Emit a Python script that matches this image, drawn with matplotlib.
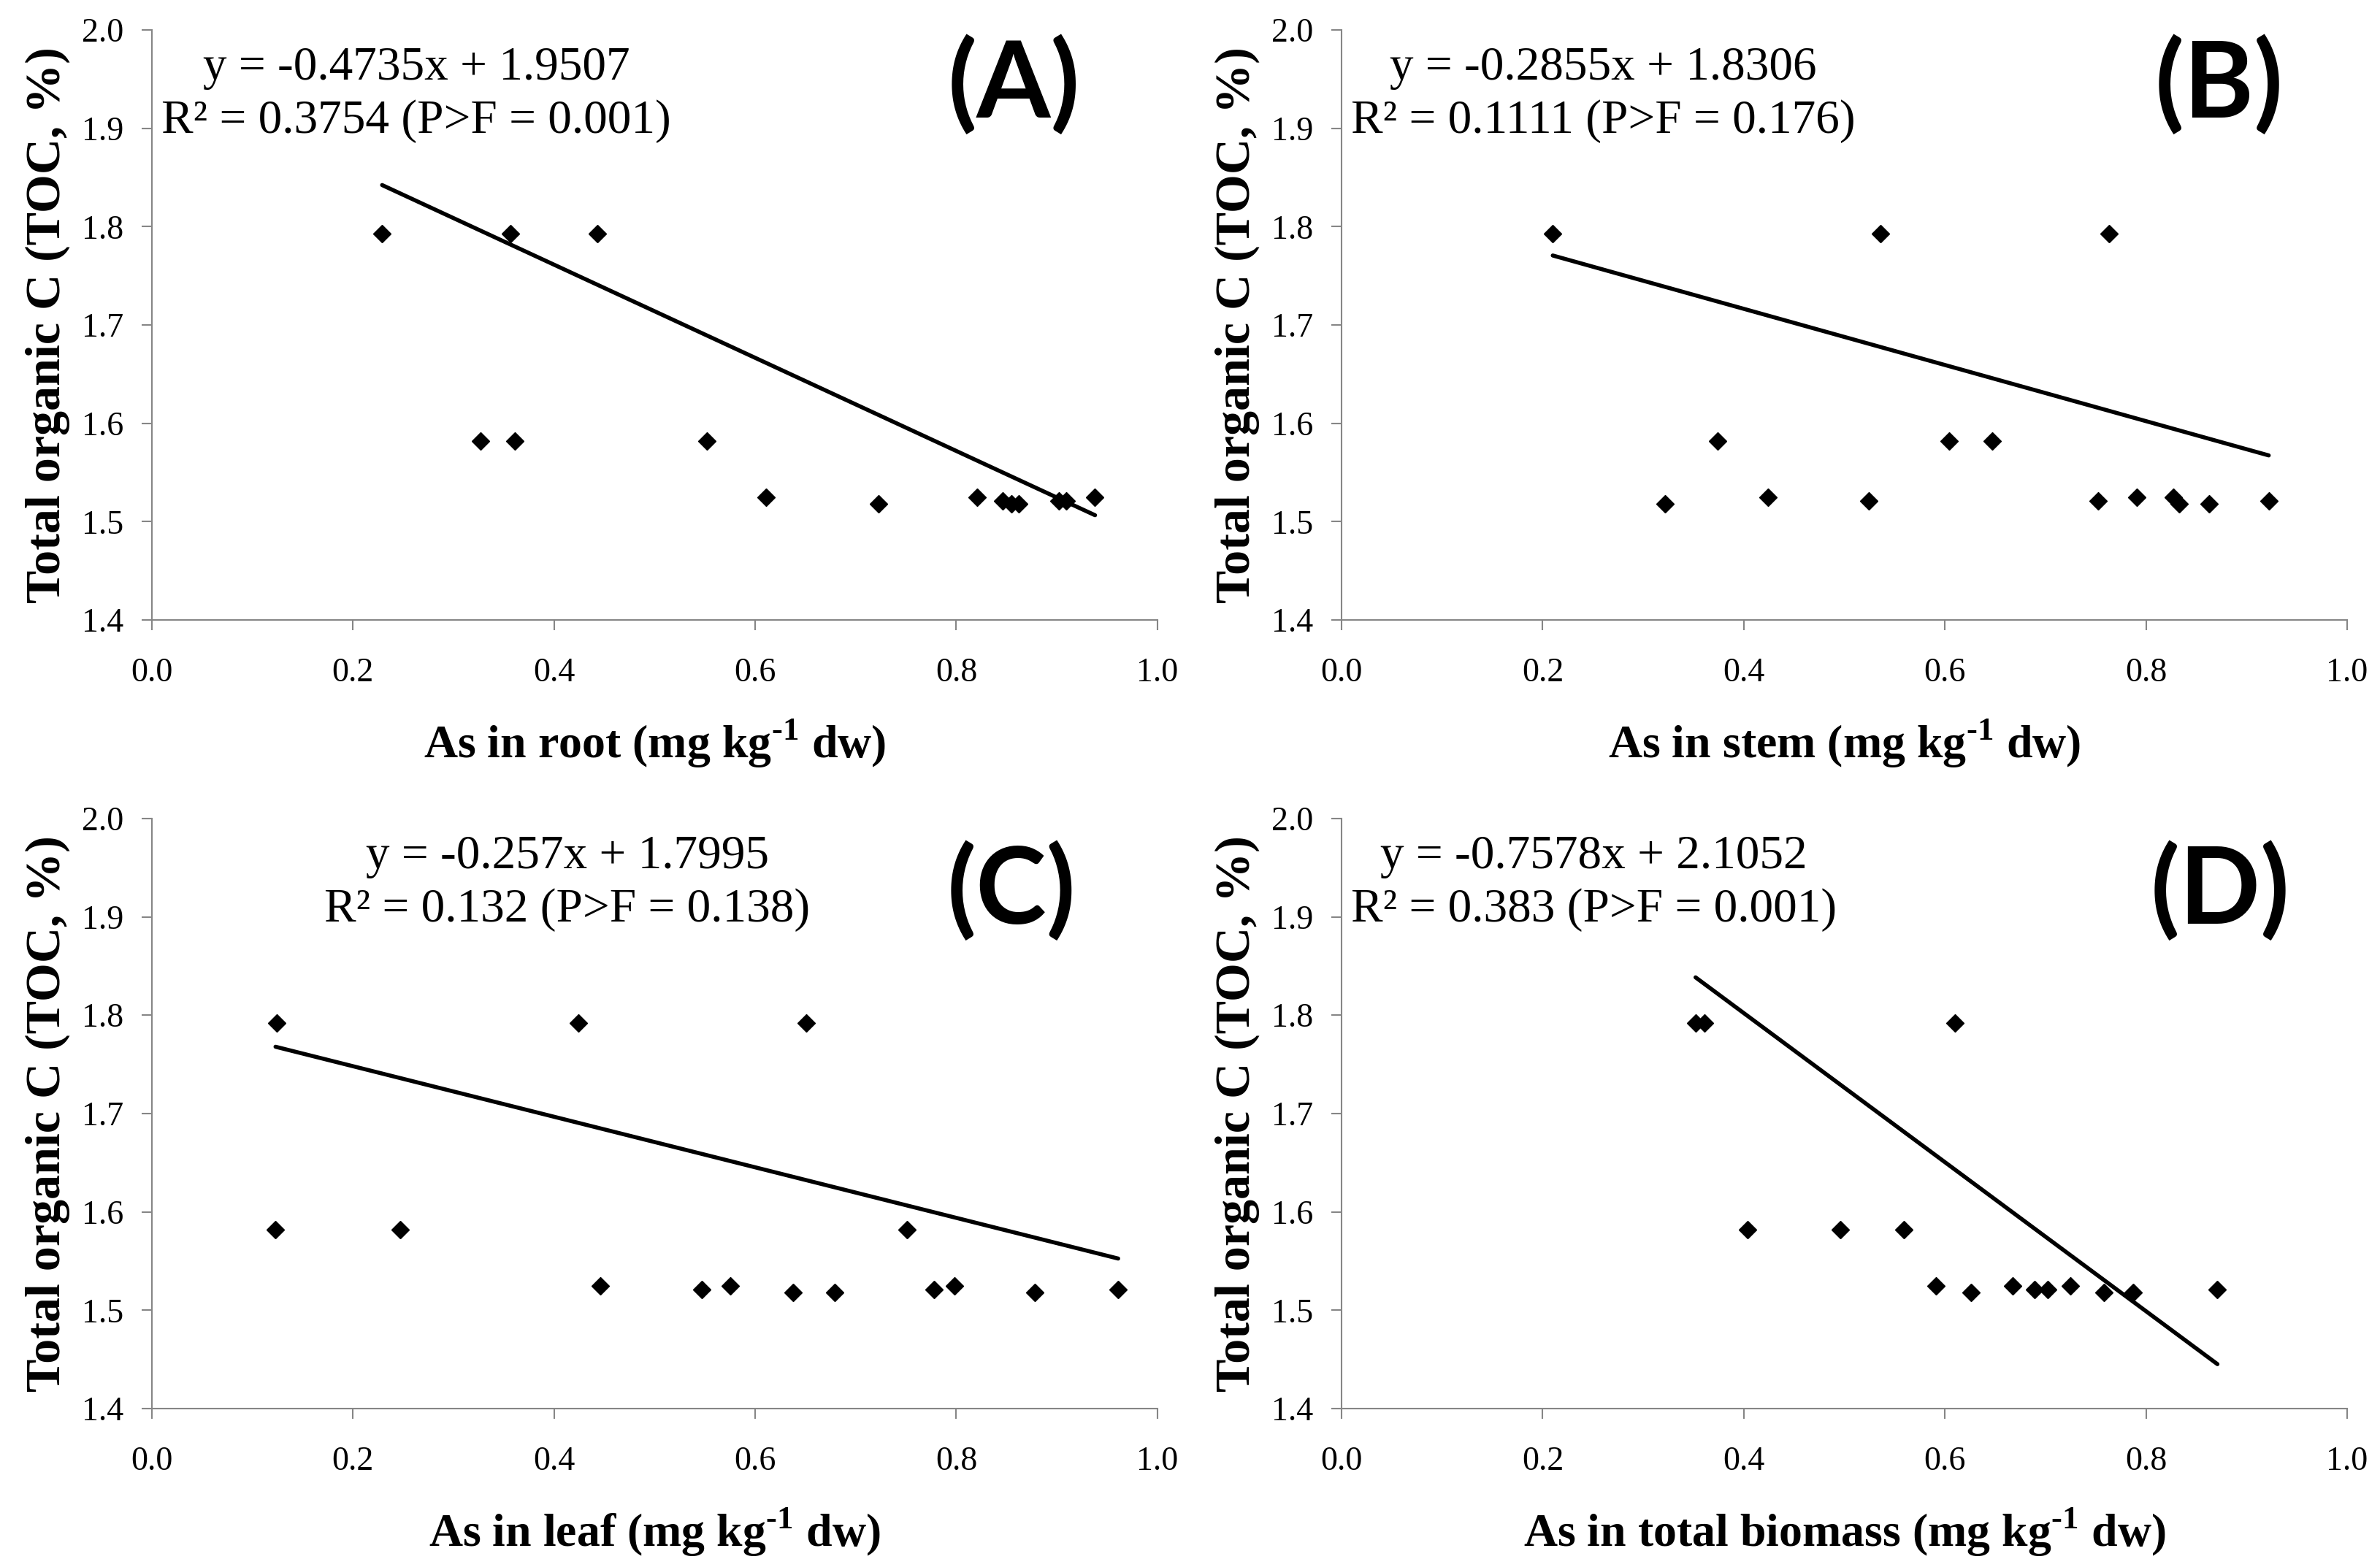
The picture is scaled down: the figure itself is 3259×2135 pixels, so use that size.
import numpy as np
import matplotlib
matplotlib.use("Agg")
import matplotlib.pyplot as plt

plt.rcParams['font.family'] = ['Liberation Serif', 'DejaVu Serif']
plt.rcParams['mathtext.fontset'] = 'custom'
plt.rcParams['mathtext.rm'] = 'Liberation Serif:bold'
plt.rcParams['mathtext.bf'] = 'Liberation Serif:bold'

# panel A - root
root_x = [0.229, 0.357, 0.443, 0.327, 0.361, 0.552, 0.611, 0.723, 0.821,
          0.846, 0.855, 0.862, 0.902, 0.909, 0.938]
root_y = [1.793, 1.793, 1.793, 1.582, 1.582, 1.582, 1.525, 1.518, 1.525,
          1.521, 1.518, 1.518, 1.521, 1.521, 1.525]

# panel B - stem
stem_x = [0.210, 0.536, 0.763, 0.374, 0.604, 0.647, 0.322, 0.424, 0.524,
          0.752, 0.791, 0.827, 0.833, 0.863, 0.922]
stem_y = [1.793, 1.793, 1.793, 1.582, 1.582, 1.582, 1.518, 1.525, 1.521,
          1.521, 1.525, 1.525, 1.518, 1.518, 1.521]

# panel C - leaf
leaf_x = [0.124, 0.424, 0.651, 0.123, 0.247, 0.751, 0.446, 0.547, 0.575,
          0.638, 0.679, 0.778, 0.798, 0.878, 0.961]
leaf_y = [1.792, 1.792, 1.792, 1.582, 1.582, 1.582, 1.525, 1.521, 1.525,
          1.518, 1.518, 1.521, 1.525, 1.518, 1.521]

# panel D - total biomass
total_x = [0.352, 0.361, 0.610, 0.404, 0.496, 0.559, 0.591, 0.626, 0.667,
           0.689, 0.702, 0.725, 0.758, 0.787, 0.871]
total_y = [1.792, 1.792, 1.792, 1.582, 1.582, 1.582, 1.525, 1.518, 1.525,
           1.521, 1.521, 1.525, 1.518, 1.518, 1.521]

slopes = [-0.4735, -0.2855, -0.257, -0.7578]
intercepts = [1.9507, 1.8306, 1.7995, 2.1052]
eq_lines = ["y = -0.4735x + 1.9507", "y = -0.2855x + 1.8306",
            "y = -0.257x + 1.7995", "y = -0.7578x + 2.1052"]
r2_lines = ["R\u00b2 = 0.3754 (P>F = 0.001)", "R\u00b2 = 0.1111 (P>F = 0.176)",
            "R\u00b2 = 0.132 (P>F = 0.138)", "R\u00b2 = 0.383 (P>F = 0.001)"]
panel_tags = ["(A)", "(B)", "(C)", "(D)"]
xlabels = [r"As in root (mg kg$^{\text{-1}}$ dw)", r"As in stem (mg kg$^{\text{-1}}$ dw)",
           r"As in leaf (mg kg$^{\text{-1}}$ dw)",
           r"As in total biomass (mg kg$^{\text{-1}}$ dw)"]
ylabel = "Total organic C (TOC, %)"

xs = [root_x, stem_x, leaf_x, total_x]
ys = [root_y, stem_y, leaf_y, total_y]

# layout (figure fractions)
positions = [[0.0638, 0.6023, 0.4225, 0.3785],
             [0.5637, 0.6023, 0.4225, 0.3785],
             [0.0638, 0.0965, 0.4225, 0.3785],
             [0.5637, 0.0965, 0.4225, 0.3785]]
eq_x = [0.263, 0.260, 0.413, 0.251]
tag_x = [0.857, 0.873, 0.855, 0.874]
tag_y = [0.907, 0.907, 0.877, 0.877]

grey = '#868686'
fig = plt.figure(figsize=(32.59, 21.35), dpi=100)

for i in range(4):
    ax = fig.add_axes(positions[i])
    x = np.array(xs[i])
    y = np.array(ys[i])
    ax.plot(x, y, linestyle='none', marker='D', markersize=12, color='black')
    xl = np.array([x.min(), x.max()])
    ax.plot(xl, slopes[i] * xl + intercepts[i], color='black', lw=4,
            solid_capstyle='round')

    ax.set_xlim(0, 1.0)
    ax.set_ylim(1.4, 2.0)
    ax.set_xticks(np.arange(0, 1.01, 0.2))
    ax.set_yticks(np.arange(1.4, 2.001, 0.1))
    ax.xaxis.set_major_formatter(matplotlib.ticker.FormatStrFormatter('%.1f'))
    ax.yaxis.set_major_formatter(matplotlib.ticker.FormatStrFormatter('%.1f'))
    for s in ['top', 'right']:
        ax.spines[s].set_visible(False)
    for s in ['left', 'bottom']:
        ax.spines[s].set_color(grey)
        ax.spines[s].set_linewidth(1.5)
    ax.tick_params(axis='both', direction='out', length=10, width=1.5,
                   color=grey, labelsize=33, labelcolor='black')
    ax.tick_params(axis='x', pad=27)
    ax.tick_params(axis='y', pad=18)

    ax.text(0.5, -0.234, xlabels[i], transform=ax.transAxes, ha='center',
            va='baseline', fontsize=46, fontweight='bold')
    ax.text(-0.104, 0.5, ylabel, transform=ax.transAxes, ha='center',
            va='center', rotation=90, fontsize=49, fontweight='bold')

    ax.text(eq_x[i], 0.916, eq_lines[i], transform=ax.transAxes, ha='center',
            va='baseline', fontsize=47)
    ax.text(eq_x[i], 0.8255, r2_lines[i], transform=ax.transAxes, ha='center',
            va='baseline', fontsize=47)
    ax.text(tag_x[i], tag_y[i], panel_tags[i], transform=ax.transAxes,
            ha='center', va='center', fontsize=105, fontweight='bold',
            family=['Lato', 'DejaVu Sans'])

fig.savefig('out.png', dpi=100)
